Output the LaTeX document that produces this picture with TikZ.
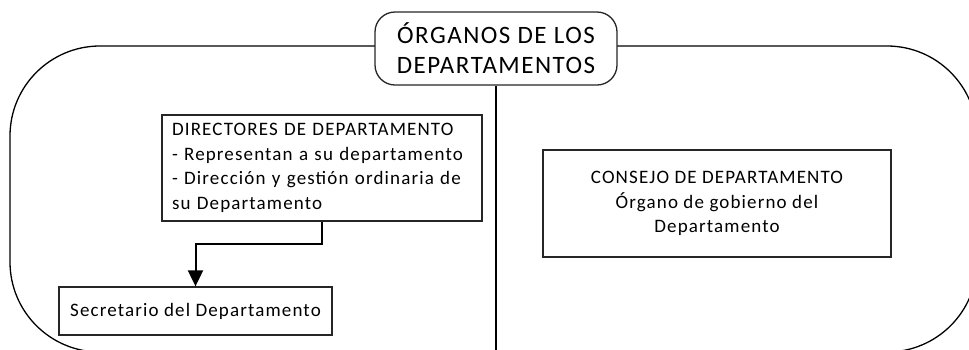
\documentclass[tikz,border=0pt]{standalone}
\usepackage{fontspec}
\setmainfont{Carlito}[LetterSpace=6]
\usetikzlibrary{arrows.meta}
\begin{document}
\begin{tikzpicture}[x=1pt,y=-1pt,
  box/.style={draw=black!85, line width=1.3pt, fill=white, inner sep=0pt, font=\fontsize{19}{24.5}\selectfont},
  link/.style={line width=2pt, -{Triangle[width=15pt,length=16pt]}}]
\useasboundingbox (0,0) rectangle (969,349);
\clip (0,0) rectangle (969,349);
\draw[line width=1.3pt, rounded corners=90pt] (10,46) rectangle (977,352);
\node[box, rounded corners=20pt, minimum width=242pt, minimum height=73pt, align=center,
  font=\fontsize{25}{30}\selectfont] (title) at (496,48.5) {ÓRGANOS DE LOS\\DEPARTAMENTOS};
\coordinate (bottom) at (496,360);
\draw[line width=1.3pt] (title.south) -- (bottom);
\node[box, minimum width=320pt, minimum height=106pt, text width=300pt, align=left] (dir) at (322,168)
  {DIRECTORES DE DEPARTAMENTO\\- Representan a su departamento\\- Dirección y gestión ordinaria de\\su Departamento};
\node[box, minimum width=273pt, minimum height=48pt] (sec) at (195.5,311)
  {Secretario del Departamento};
\node[box, minimum width=348pt, minimum height=107pt, align=center] (con) at (717,203.5)
  {CONSEJO DE DEPARTAMENTO\\Órgano de gobierno del\\Departamento};
\draw[link] (dir.south) -- ++(0,22) -| (sec.north);
\end{tikzpicture}
\end{document}
